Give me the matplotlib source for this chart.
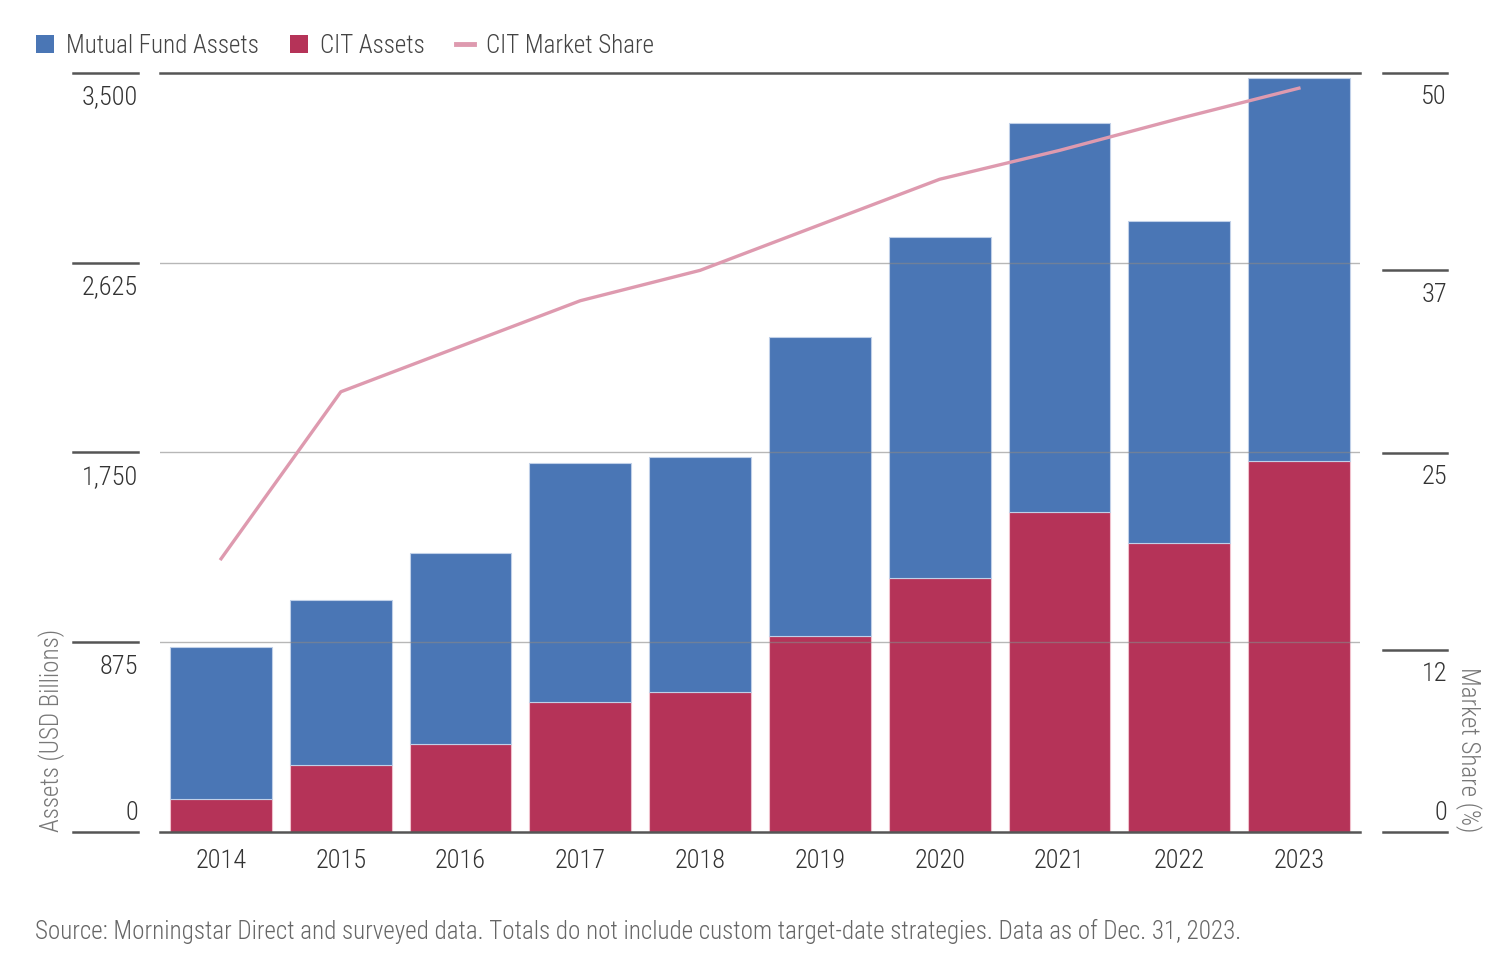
import matplotlib.pyplot as plt
import matplotlib.transforms as mtransforms
from matplotlib.patches import Patch
from matplotlib.lines import Line2D

# datos
years = ['2014', '2015', '2016', '2017', '2018', '2019', '2020', '2021', '2022', '2023']
cit_assets = [152, 309, 406, 600, 646, 904, 1171, 1476, 1333, 1711]
mf_assets = [701, 761, 881, 1101, 1083, 1378, 1573, 1793, 1484, 1766]
cit_share = [18.0, 29.0, 32.0, 35.0, 37.0, 40.0, 43.0, 44.9, 47.0, 49.0]

left_ticks = [0, 875, 1750, 2625, 3500]
left_labels = ['0', '875', '1,750', '2,625', '3,500']
right_ticks = [0, 12, 25, 37, 50]
right_labels = ['0', '12', '25', '37', '50']

blue = '#4A76B5'
red = '#B53358'
pink = '#DE9AAF'
txt = '#444444'
dark = '#555555'

plt.rcParams['font.family'] = ['Roboto Condensed', 'DejaVu Sans']
plt.rcParams['font.weight'] = 300

fig = plt.figure(figsize=(15.1, 9.68), dpi=100)
ax = fig.add_axes([160 / 1510, 136 / 968, 1200 / 1510, 759 / 968])
x = list(range(len(years)))

ax.bar(x, cit_assets, width=0.85, color=red, edgecolor='#F0C0CC', linewidth=0.8, zorder=2)
ax.bar(x, mf_assets, bottom=cit_assets, width=0.85, color=blue,
       edgecolor='#C0D0E8', linewidth=0.8, zorder=2)

ax.set_xlim(-0.51, 9.51)
ax.set_ylim(0, 3500)
for s in ax.spines.values():
    s.set_visible(False)

# lineas de cuadricula
for v in left_ticks:
    if v in (0, 3500):
        ax.axhline(v, color=dark, linewidth=1.8, zorder=4, clip_on=False)
    else:
        ax.axhline(v, color='#888888', linewidth=1.0, alpha=0.6, zorder=4)

ax.set_yticks([])
ax.set_xticks(x)
ax.set_xticklabels(years, fontsize=19, color='#333333')
ax.tick_params(axis='x', length=0, pad=12)

# ticks del eje izquierdo fuera del area
blend = mtransforms.blended_transform_factory(ax.transAxes, ax.transData)
for v, lab in zip(left_ticks, left_labels):
    ax.plot([-0.0725, -0.0183], [v, v], transform=blend, color=dark,
            linewidth=1.8, clip_on=False)
    off, va = ((0, 5), 'bottom') if v == 0 else ((0, -9), 'top')
    ax.annotate(lab, xy=(-0.0183, v), xycoords=blend, xytext=off,
                textcoords='offset points', ha='right', va=va,
                fontsize=19, color='#333333')

# eje derecho: participacion de mercado
ax2 = ax.twinx()
ax2.set_ylim(0, 50)
for s in ax2.spines.values():
    s.set_visible(False)
ax2.set_yticks([])
ax2.plot(x, cit_share, color=pink, linewidth=2.4, zorder=5)

blend2 = mtransforms.blended_transform_factory(ax2.transAxes, ax2.transData)
for v, lab in zip(right_ticks, right_labels):
    ax2.plot([1.019, 1.0725], [v, v], transform=blend2, color=dark,
             linewidth=1.8, clip_on=False)
    off, va = ((0, 5), 'bottom') if v == 0 else ((0, -9), 'top')
    ax2.annotate(lab, xy=(1.0725, v), xycoords=blend2, xytext=off,
                 textcoords='offset points', ha='right', va=va,
                 fontsize=19, color='#333333')

# titulos de ejes
fig.text(52 / 1510, 136 / 968, 'Assets (USD Billions)', rotation=90,
         ha='center', va='bottom', fontsize=18, color='#777777')
fig.text(1468 / 1510, 136 / 968, 'Market Share (%)', rotation=270,
         ha='center', va='bottom', fontsize=18, color='#777777')

# leyenda
handles = [Patch(facecolor=blue, edgecolor='none'),
           Patch(facecolor=red, edgecolor='none'),
           Line2D([0], [0], color=pink, linewidth=3.5)]
fig.legend(handles, ['Mutual Fund Assets', 'CIT Assets', 'CIT Market Share'],
           loc='center left', bbox_to_anchor=(13 / 1510, 1 - 46 / 968), ncol=3,
           frameon=False, fontsize=18, labelcolor=txt, handlelength=0.75,
           handleheight=0.75, handletextpad=0.45, columnspacing=1.25)

fig.text(35 / 1510, 1 - 931 / 968,
         'Source: Morningstar Direct and surveyed data. Totals do not include custom '
         'target-date strategies. Data as of Dec. 31, 2023.',
         ha='left', va='center', fontsize=18, color='#666666')

plt.savefig('out.png', dpi=100)
